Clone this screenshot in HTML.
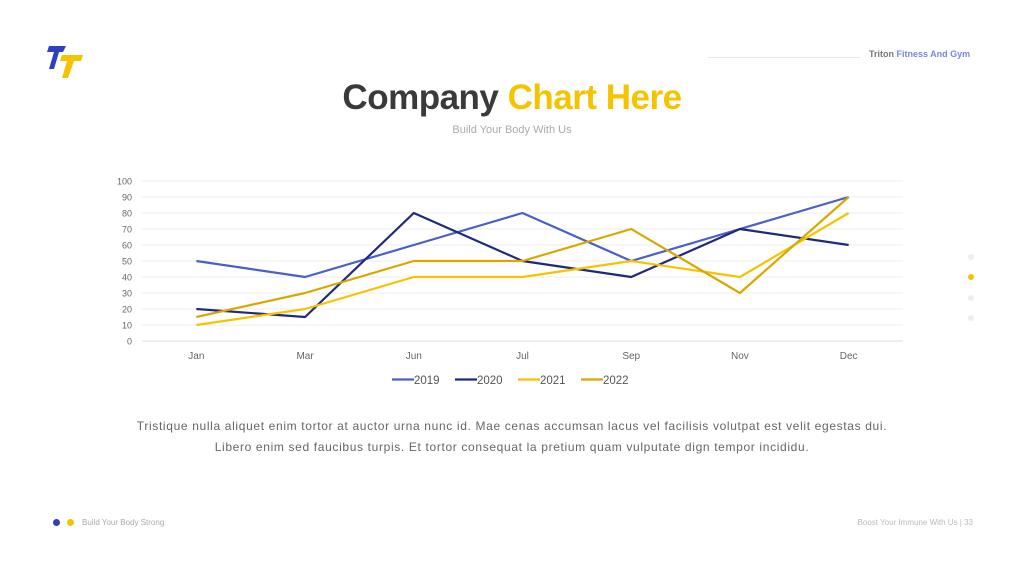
<!DOCTYPE html>
<html><head><meta charset="utf-8"><style>
body{margin:0;width:1024px;height:576px;background:#fff;font-family:"Liberation Sans",sans-serif;position:relative;overflow:hidden}
.abs{position:absolute}
</style></head><body>
<svg class="abs" style="left:46px;top:44px" width="40" height="36">
<polygon points="3,2 20,2 17,8 13,8 8,25 3,25 8,8 1,8" fill="#2f3fbf"/>
<polygon points="16,11 37,11 35,17 28,17 22,34 16,34 21,17 14,17" fill="#f5c400"/>
</svg>
<div class="abs" style="left:708px;top:57px;width:152px;height:1px;background:#e6e6e6"></div>
<div class="abs" style="left:869px;top:49px;font-size:9px;font-weight:bold;color:#777">Triton <span style="color:#7b86e0">Fitness And Gym</span></div>
<div class="abs" style="left:0;width:1024px;top:78px;text-align:center;font-size:35px;font-weight:bold;color:#3a3a3a;letter-spacing:-0.5px">Company <span style="color:#f5c400">Chart Here</span></div>
<div class="abs" style="left:0;width:1024px;top:124px;text-align:center;font-size:11px;color:#aaa">Build Your Body With Us</div>
<svg class="abs" style="left:0;top:0" width="1024" height="576" id="chart"></svg>
<div class="abs" style="left:0;width:1024px;top:416px;text-align:center;font-size:12px;color:#666;line-height:21px;letter-spacing:0.65px">Tristique nulla aliquet enim tortor at auctor urna nunc id. Mae cenas accumsan lacus vel facilisis volutpat est velit egestas dui.<br>Libero enim sed faucibus turpis. Et tortor consequat la pretium quam vulputate dign tempor incididu.</div>
<div class="abs" style="left:968px;top:254px;width:6px;height:6px;border-radius:50%;background:#eee"></div>
<div class="abs" style="left:968px;top:274px;width:6px;height:6px;border-radius:50%;background:#f5c400"></div>
<div class="abs" style="left:968px;top:295px;width:6px;height:6px;border-radius:50%;background:#eee"></div>
<div class="abs" style="left:968px;top:315px;width:6px;height:6px;border-radius:50%;background:#eee"></div>
<div class="abs" style="left:53px;top:519px;width:7px;height:7px;border-radius:50%;background:#2f3fbf"></div>
<div class="abs" style="left:67px;top:519px;width:7px;height:7px;border-radius:50%;background:#f5c400"></div>
<div class="abs" style="left:82px;top:518px;font-size:8px;color:#aaa">Build Your Body Strong</div>
<div class="abs" style="right:51px;top:518px;font-size:8px;color:#bbb">Boost Your Immune With Us | 33</div>
<script>
const categories=["Jan","Mar","Jun","Jul","Sep","Nov","Dec"];
const yTicks=[0,10,20,30,40,50,60,70,80,90,100];
const seriesNames=["2019","2020","2021","2022"];
const s2019=[50,40,60,80,50,70,90];
const s2020=[20,15,80,50,40,70,60];
const s2021=[10,20,40,40,50,40,80];
const s2022=[15,30,50,50,70,30,90];
const colors=["#4a5fc8","#1f2a78","#f5c400","#d9a800"];
const svg=document.getElementById('chart');const NS="http://www.w3.org/2000/svg";
const L=142,R=903,T=181,B=341;
const x=i=>L+(R-L)/categories.length*(i+0.5);
const y=v=>B-(v/100)*(B-T);
function mk(t,a){const e=document.createElementNS(NS,t);for(const k in a)e.setAttribute(k,a[k]);svg.appendChild(e);return e;}
yTicks.forEach(v=>{
 const g=mk('line',{x1:L,x2:R,y1:y(v),y2:y(v),stroke:v===0?'#ddd':'#ececec','stroke-width':1});
 
 
 const t=mk('text',{x:132,y:y(v)+3.5,'text-anchor':'end','font-size':9,fill:'#666','font-family':'Liberation Sans'});t.textContent=v;
 
 
});
categories.forEach((c,i)=>{
 const t=mk('text',{x:x(i),y:359,'text-anchor':'middle','font-size':10,fill:'#666','font-family':'Liberation Sans'});t.textContent=c;
 
 
});
[s2019,s2020,s2021,s2022].forEach((s,k)=>{
 const p=mk('polyline',{points:s.map((v,i)=>x(i)+','+y(v)).join(' '),fill:'none',stroke:colors[k],'stroke-width':2.2,'stroke-linejoin':'round'});
 
 
});
const lx=[392,455,518,581];
seriesNames.forEach((n,k)=>{
 const l=mk('line',{x1:lx[k],x2:lx[k]+22,y1:379.5,y2:379.5,stroke:colors[k],'stroke-width':2.2});
 
 
 const t=mk('text',{x:lx[k]+22,y:384,'font-size':11.5,fill:'#555','font-family':'Liberation Sans'});t.textContent=n;
 
 
});
</script>
</body></html>
